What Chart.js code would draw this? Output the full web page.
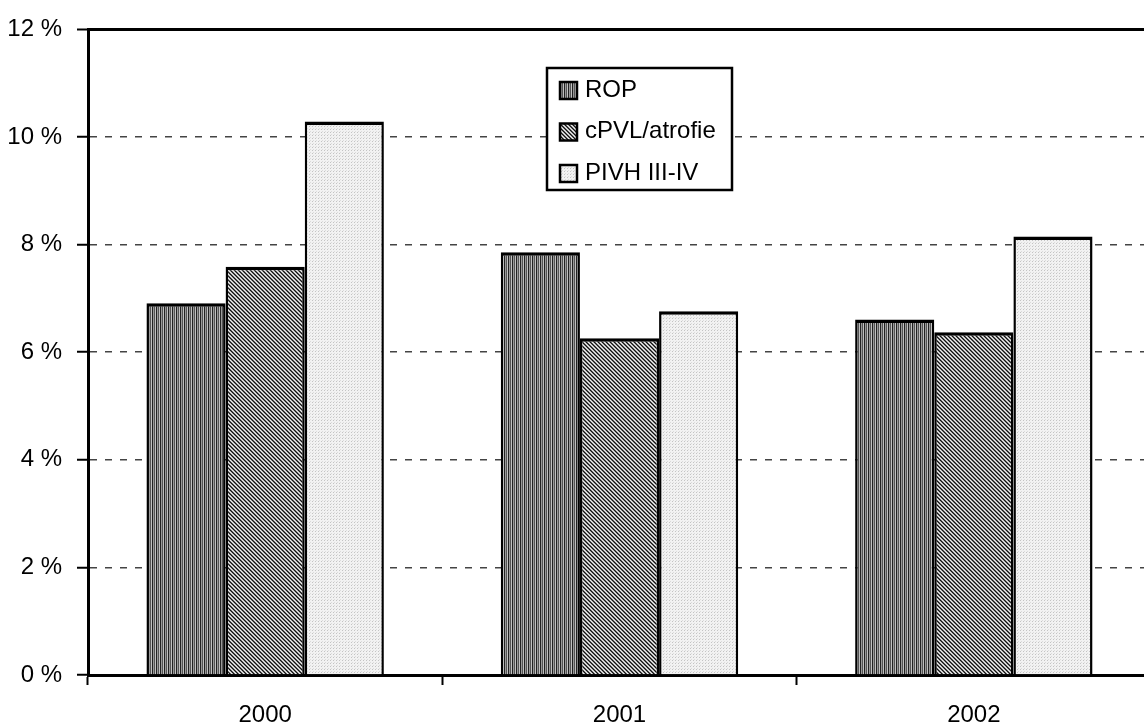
<!DOCTYPE html>
<html>
<head>
<meta charset="utf-8">
<script src="https://cdn.jsdelivr.net/npm/chart.js@4.4.1/dist/chart.umd.min.js"></script>
<style>
  html, body { margin: 0; padding: 0; background: #fff; overflow: hidden; }
  #wrap { width: 1152px; height: 726px; }
</style>
</head>
<body>
<div id="wrap"><canvas id="chart"></canvas></div>
<script>
// Data (percent)
const years = ['2000', '2001', '2002'];
const rop = [6.91, 7.86, 6.61];
const cpvl = [7.59, 6.26, 6.37];
const pivh = [10.29, 6.76, 8.15];
const yTicks = [0, 2, 4, 6, 8, 10, 12];

const FONT = { family: '"Liberation Sans", Arial, sans-serif', size: 24 };

// Small tiles used as bar fill patterns
function makePattern(size, paint) {
    const c = document.createElement('canvas');
    c.width = size; c.height = size;
    const g = c.getContext('2d');
    paint(g, size);
    return g.createPattern(c, 'repeat');
}

const stripes = makePattern(4, (g, s) => {
    const cols = ['#222', '#999', '#555', '#c0c0c0'];
    for (let x = 0; x < s; x++) {
        g.fillStyle = cols[x];
        g.fillRect(x, 0, 1, s);
    }
});

const hatch = makePattern(4, (g, s) => {
    for (let y = 0; y < s; y++) {
        for (let x = 0; x < s; x++) {
            const k = (x - y + 8) % 4;
            g.fillStyle = k === 0 ? '#111' : (k === 1 ? '#666' : (k === 2 ? '#eee' : '#aaa'));
            g.fillRect(x, y, 1, 1);
        }
    }
});

const dots = makePattern(3, (g, s) => {
    g.fillStyle = '#f2f2f2';
    g.fillRect(0, 0, s, s);
    g.fillStyle = '#c4c4c4';
    g.fillRect(0, 0, 1, 1);
    g.fillStyle = '#dcdcdc';
    g.fillRect(1, 2, 1, 1);
});

// Boxed legend drawn inside the plot, like the original
const boxLegend = {
    id: 'boxLegend',
    afterDraw(chart) {
        const ctx = chart.ctx;
        const left = 547, top = 68, right = 732, bottom = 190;
        ctx.save();
        ctx.fillStyle = '#fff';
        ctx.fillRect(left, top, right - left, bottom - top);
        ctx.lineWidth = 2.5;
        ctx.strokeStyle = '#000';
        ctx.strokeRect(left, top, right - left, bottom - top);
        ctx.font = FONT.size + 'px ' + FONT.family;
        ctx.textBaseline = 'middle';
        ctx.textAlign = 'left';
        chart.data.datasets.forEach((ds, i) => {
            const cy = 90 + i * 41.5;
            ctx.fillStyle = ds.backgroundColor;
            ctx.fillRect(560, cy - 8, 17, 17);
            ctx.lineWidth = 2.5;
            ctx.strokeRect(560, cy - 8, 17, 17);
            ctx.fillStyle = '#000';
            ctx.fillText(ds.label, 585, cy);
        });
        ctx.restore();
    }
};

const barBorder = { top: 3.5, left: 2.5, right: 2.5, bottom: 0 };

new Chart(document.getElementById('chart'), {
    type: 'bar',
    data: {
        labels: years,
        datasets: [
            { label: 'ROP', data: rop, backgroundColor: stripes },
            { label: 'cPVL/atrofie', data: cpvl, backgroundColor: hatch },
            { label: 'PIVH III-IV', data: pivh, backgroundColor: dots }
        ].map(ds => Object.assign(ds, {
            borderColor: '#000',
            borderWidth: barBorder,
            borderSkipped: false,
            categoryPercentage: 0.67,
            barPercentage: 1.0
        }))
    },
    options: {
        responsive: true,
        maintainAspectRatio: false,
        animation: false,
        layout: { padding: { top: 27, right: 1, left: 0, bottom: 0 } },
        plugins: {
            legend: { display: false },
            tooltip: { enabled: false }
        },
        scales: {
            x: {
                grid: {
                    drawOnChartArea: false,
                    drawTicks: true,
                    tickLength: 10,
                    tickWidth: 2,
                    tickColor: '#000'
                },
                border: { display: true, color: '#000', width: 3 },
                ticks: { color: '#000', font: FONT, padding: 16 },
                afterFit: (s) => { s.height = 51; }
            },
            y: {
                min: 0,
                max: 12,
                afterBuildTicks: (s) => { s.ticks = yTicks.map(v => ({ value: v })); },
                grid: {
                    color: (c) => c.tick && c.tick.value === 12 ? '#000' : (c.tick && c.tick.value === 0 ? 'rgba(0,0,0,0)' : '#444'),
                    lineWidth: (c) => c.tick && c.tick.value === 12 ? 3 : 1.5,
                    drawTicks: true,
                    tickLength: 11,
                    tickWidth: 2,
                    tickColor: '#000'
                },
                border: {
                    display: true,
                    color: '#000',
                    width: 3,
                    dash: (c) => c.tick && c.tick.value !== 12 ? [7, 8] : []
                },
                ticks: {
                    color: '#000',
                    font: FONT,
                    padding: 15,
                    callback: (v) => v + ' %'
                },
                afterFit: (s) => { s.width = 88; }
            }
        }
    },
    plugins: [boxLegend]
});
</script>
</body>
</html>
